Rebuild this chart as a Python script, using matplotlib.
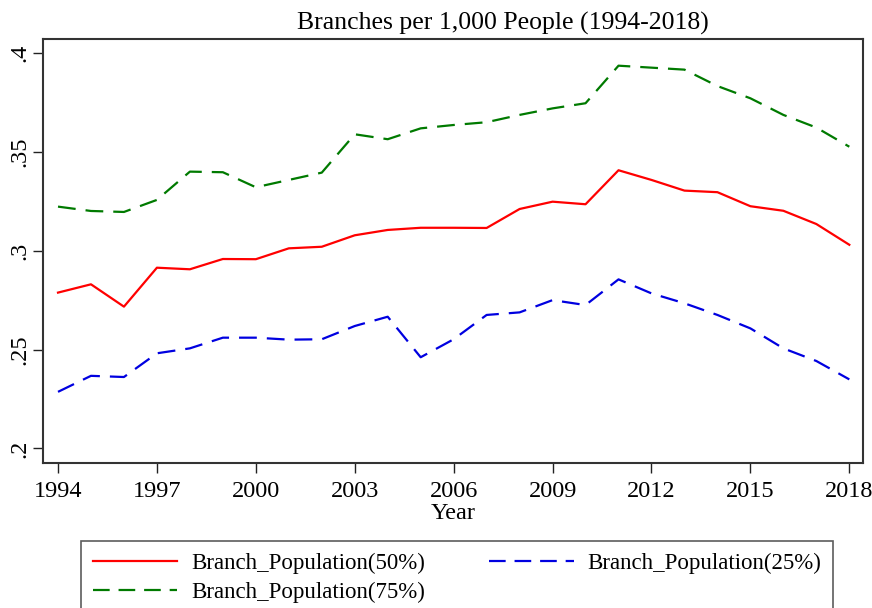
import matplotlib
matplotlib.use("Agg")
import matplotlib.pyplot as plt

# ============================================================
# Data
# ============================================================

years = list(range(1994, 2019))

branch_50 = [0.2788, 0.2830, 0.2717, 0.2914, 0.2906, 0.2958, 0.2957, 0.3012,
             0.3020, 0.3078, 0.3105, 0.3116, 0.3116, 0.3115, 0.3211, 0.3248,
             0.3235, 0.3407, 0.3358, 0.3304, 0.3296, 0.3225, 0.3202, 0.3135,
             0.3030]

branch_25 = [0.2286, 0.2367, 0.2361, 0.2481, 0.2506, 0.2560, 0.2560, 0.2550,
             0.2552, 0.2619, 0.2666, 0.2461, 0.2552, 0.2675, 0.2688, 0.2750,
             0.2725, 0.2855, 0.2784, 0.2734, 0.2675, 0.2607, 0.2506, 0.2442,
             0.2349]

branch_75 = [0.3223, 0.3201, 0.3196, 0.3257, 0.3400, 0.3397, 0.3321, 0.3358,
             0.3395, 0.3589, 0.3564, 0.3619, 0.3636, 0.3650, 0.3687, 0.3720,
             0.3746, 0.3936, 0.3926, 0.3916, 0.3833, 0.3771, 0.3687, 0.3623,
             0.3526]

x_ticks = [1994, 1997, 2000, 2003, 2006, 2009, 2012, 2015, 2018]
y_ticks = [0.2, 0.25, 0.3, 0.35, 0.4]
y_labels = ['.2', '.25', '.3', '.35', '.4']

# ============================================================
# Plot
# ============================================================

plt.rcParams['font.family'] = ['Liberation Serif', 'DejaVu Serif']

fig = plt.figure(figsize=(8.72, 6.08), dpi=100)
ax = fig.add_axes([43/872, 1 - 463/608, (863 - 43)/872, (463 - 39)/608])

ax.plot(years, branch_50, color='#ff0000', lw=1.6,
        label='Branch_Population(50%)')
ax.plot(years, branch_75, color='#007a00', lw=1.6, dashes=(8, 4.5),
        label='Branch_Population(75%)')
ax.plot(years, branch_25, color='#0000e0', lw=1.6, dashes=(8, 4.5),
        label='Branch_Population(25%)')

ax.set_xlim(1993.545, 2018.415)
ax.set_ylim(0.1926, 0.4071)

ax.set_xticks(x_ticks)
ax.set_xticklabels([str(y) for y in x_ticks], fontsize=17.5)
ax.set_yticks(y_ticks)
ax.set_yticklabels(y_labels, fontsize=17.5, rotation=90, va='center')

ax.tick_params(direction='out', length=7, width=1.0, color='#222222')
ax.tick_params(axis='x', pad=6)
ax.tick_params(axis='y', pad=2)

for s in ax.spines.values():
    s.set_linewidth(1.5)
    s.set_color('#333333')

ax.set_xlabel('Year', fontsize=17.5, labelpad=1)

fig.text(503/872, 1 - 23/608, 'Branches per 1,000 People (1994-2018)',
         ha='center', va='center', fontsize=18.5)

leg = fig.legend(loc='upper center', bbox_to_anchor=(457/872, 1 - 541/608),
                 ncol=2, fontsize=16.5, frameon=True, fancybox=False,
                 handlelength=3.7, handletextpad=0.6, columnspacing=2.8,
                 borderpad=0.5, labelspacing=0.37, borderaxespad=0)
leg.get_frame().set_edgecolor('#333333')
leg.get_frame().set_linewidth(1.2)
for h in leg.get_lines()[1:]:
    h.set_dashes((7.5, 4))

fig.savefig('out.png', dpi=100)
